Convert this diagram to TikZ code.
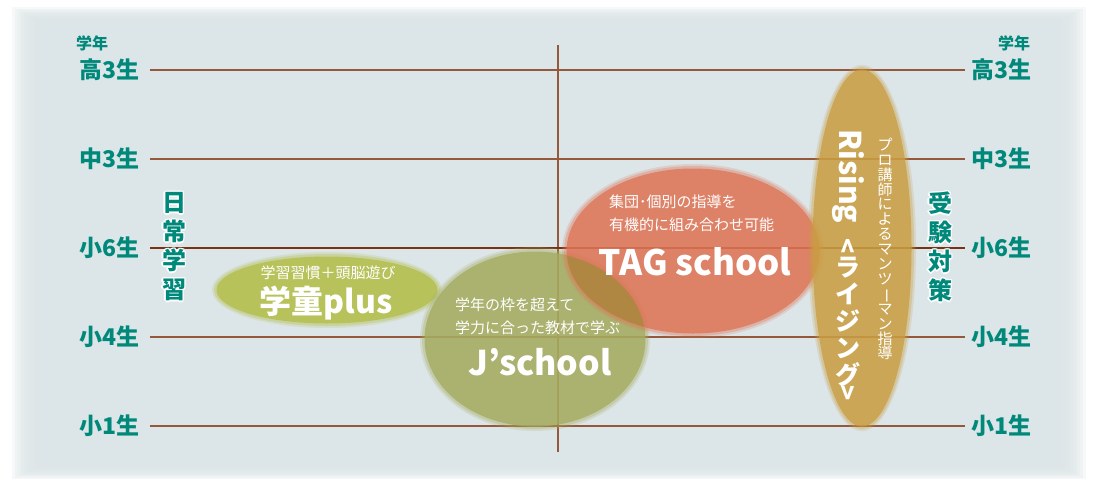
\documentclass[tikz,border=0pt]{standalone}
\usepackage{fontspec}
\setmainfont{Noto Sans CJK JP}
\usetikzlibrary{calc}
\definecolor{panel}{RGB}{220,229,232}
\definecolor{teal}{RGB}{0,137,123}
\definecolor{gline}{RGB}{150,88,58}
\definecolor{gthick}{RGB}{120,52,18}
\definecolor{cplus}{RGB}{178,190,72}
\definecolor{cj}{RGB}{165,172,95}
\definecolor{ctag}{RGB}{222,116,86}
\definecolor{cmix}{RGB}{166,138,62}
\definecolor{crise}{RGB}{202,158,66}
\tikzset{
  grade/.style={text=teal, font=\fontsize{23}{23}\selectfont\bfseries, inner sep=0pt},
  gradehead/.style={text=teal, font=\fontsize{16}{16}\selectfont\bfseries, inner sep=0pt},
  vlabel/.style={text=teal, font=\fontsize{24}{29}\selectfont\bfseries, align=center, inner sep=0pt},
  vhalo/.style={text=white, font=\fontsize{24}{29}\selectfont\bfseries, align=center, inner sep=0pt},
  gridline/.style={draw=gline, line width=1.2pt},
  thickline/.style={draw=gthick, line width=2.6pt},
  small/.style={text=white, font=\fontsize{15}{23}\selectfont, inner sep=0pt},
  big/.style={text=white, font=\fontsize{34}{34}\selectfont\bfseries, inner sep=0pt},
  kana/.style={text=white, font=\fontsize{25}{27}\selectfont\bfseries, align=center, inner sep=0pt},
}
\newcommand{\softellipse}[4]{% center, rx, ry, colour
  \fill[#4, fill opacity=0.2] #1 ellipse [x radius=#2+3, y radius=#3+3];
  \fill[#4, fill opacity=0.3] #1 ellipse [x radius=#2+1, y radius=#3+1];
  \fill[#4, fill opacity=0.78] #1 ellipse [x radius=#2-1.5, y radius=#3-1.5];
}
\newcommand{\haloed}[3]{% name, position, text
  \foreach \dx/\dy in {1.3/0,-1.3/0,0/1.3,0/-1.3,1/1,-1/1,1/-1,-1/-1}{
    \node[vhalo] at ($#2+(\dx,\dy)$) {#3};
  }
  \node[vlabel] (#1) at #2 {#3};
}
\newcommand{\vbar}{\rotatebox[origin=c]{-90}{ー}}
\begin{document}
\begin{tikzpicture}[x=1pt,y=-1pt]
\useasboundingbox (0,0) rectangle (1094,485);
\fill[white] (0,0) rectangle (1094,485);
% soft panel
\foreach \i in {0,...,9}{
  \fill[panel, fill opacity=0.25] (12+\i*3,7+\i*1.5) rectangle (1086-\i*3,479-\i*1.5);
}
\fill[panel] (42,22) rectangle (1056,464);

% grid coordinates
\foreach \n/\y in {a/70,b/159,c/248,d/337,e/426}{
  \coordinate (L\n) at (150,\y);
  \coordinate (R\n) at (965,\y);
}
\coordinate (vt) at (558,45);
\coordinate (vb) at (558,452);
\draw[gridline] (La) -- (Ra);
\draw[gridline] (Lb) -- (Rb);
\draw[gridline] (Ld) -- (Rd);
\draw[gridline] (Le) -- (Re);
\draw[gridline] (vt) -- (vb);
\draw[thickline] (Lc) -- (Rc);

% labels
\node[gradehead] (hl) at (92,43) {学年};
\node[gradehead] (hr) at (1014,43) {学年};
\foreach \n/\y/\t in {a/70/高3生,b/159/中3生,c/248/小6生,d/337/小4生,e/426/小1生}{
  \node[grade, anchor=east] (gl\n) at (140,\y) {\t};
  \node[grade, anchor=west] (gr\n) at (971,\y) {\t};
}
\haloed{nichijo}{(174,247)}{日\\常\\学\\習}
\haloed{juken}{(940,247)}{受\\験\\対\\策}

% ellipses
\softellipse{(327,290)}{112}{35}{cplus}
\softellipse{(535,339)}{112}{89}{cj}
\softellipse{(693,251)}{128}{84}{ctag}
\begin{scope}
  \clip (535,339) ellipse [x radius=110, y radius=87];
  \fill[cmix, fill opacity=0.8] (693,251) ellipse [x radius=126, y radius=82];
\end{scope}
\softellipse{(862,248)}{51}{180}{crise}

% texts
\node[small] (plusS) at (328,273) {学習習慣＋頭脳遊び};
\node[big, font=\fontsize{32}{32}\selectfont\bfseries] (plusB) at (326,303) {学童plus};
\node[small, anchor=west, align=left] (jS) at (455,316) {学年の枠を超えて\\学力に合った教材で学ぶ};
\node[big] (jB) at (540,362) {J’school};
\node[small, anchor=west, align=left] (tS) at (609,213) {集団･個別の指導を\\有機的に組み合わせ可能};
\node[big, font=\fontsize{35}{35}\selectfont\bfseries] (tB) at (695,262) {TAG school};
% Rising (vertical writing)
\node[big, rotate=-90, anchor=west, font=\fontsize{30}{30}\selectfont\bfseries] (rB) at (848,129) {Rising};
\node[kana, rotate=-90] (rLt) at (847,246) {<};
\node[kana] (rK) at (848,322) {ラ\\イ\\ジ\\ン\\グ};
\node[kana, rotate=-90] (rGt) at (847,393) {>};
\node[small, align=center, font=\fontsize{15}{14.9}\selectfont] (rS) at (885,249)
  {プ\\ロ\\講\\師\\に\\よ\\る\\マ\\ン\\ツ\\\vbar\\マ\\ン\\指\\導};
\end{tikzpicture}
\end{document}
